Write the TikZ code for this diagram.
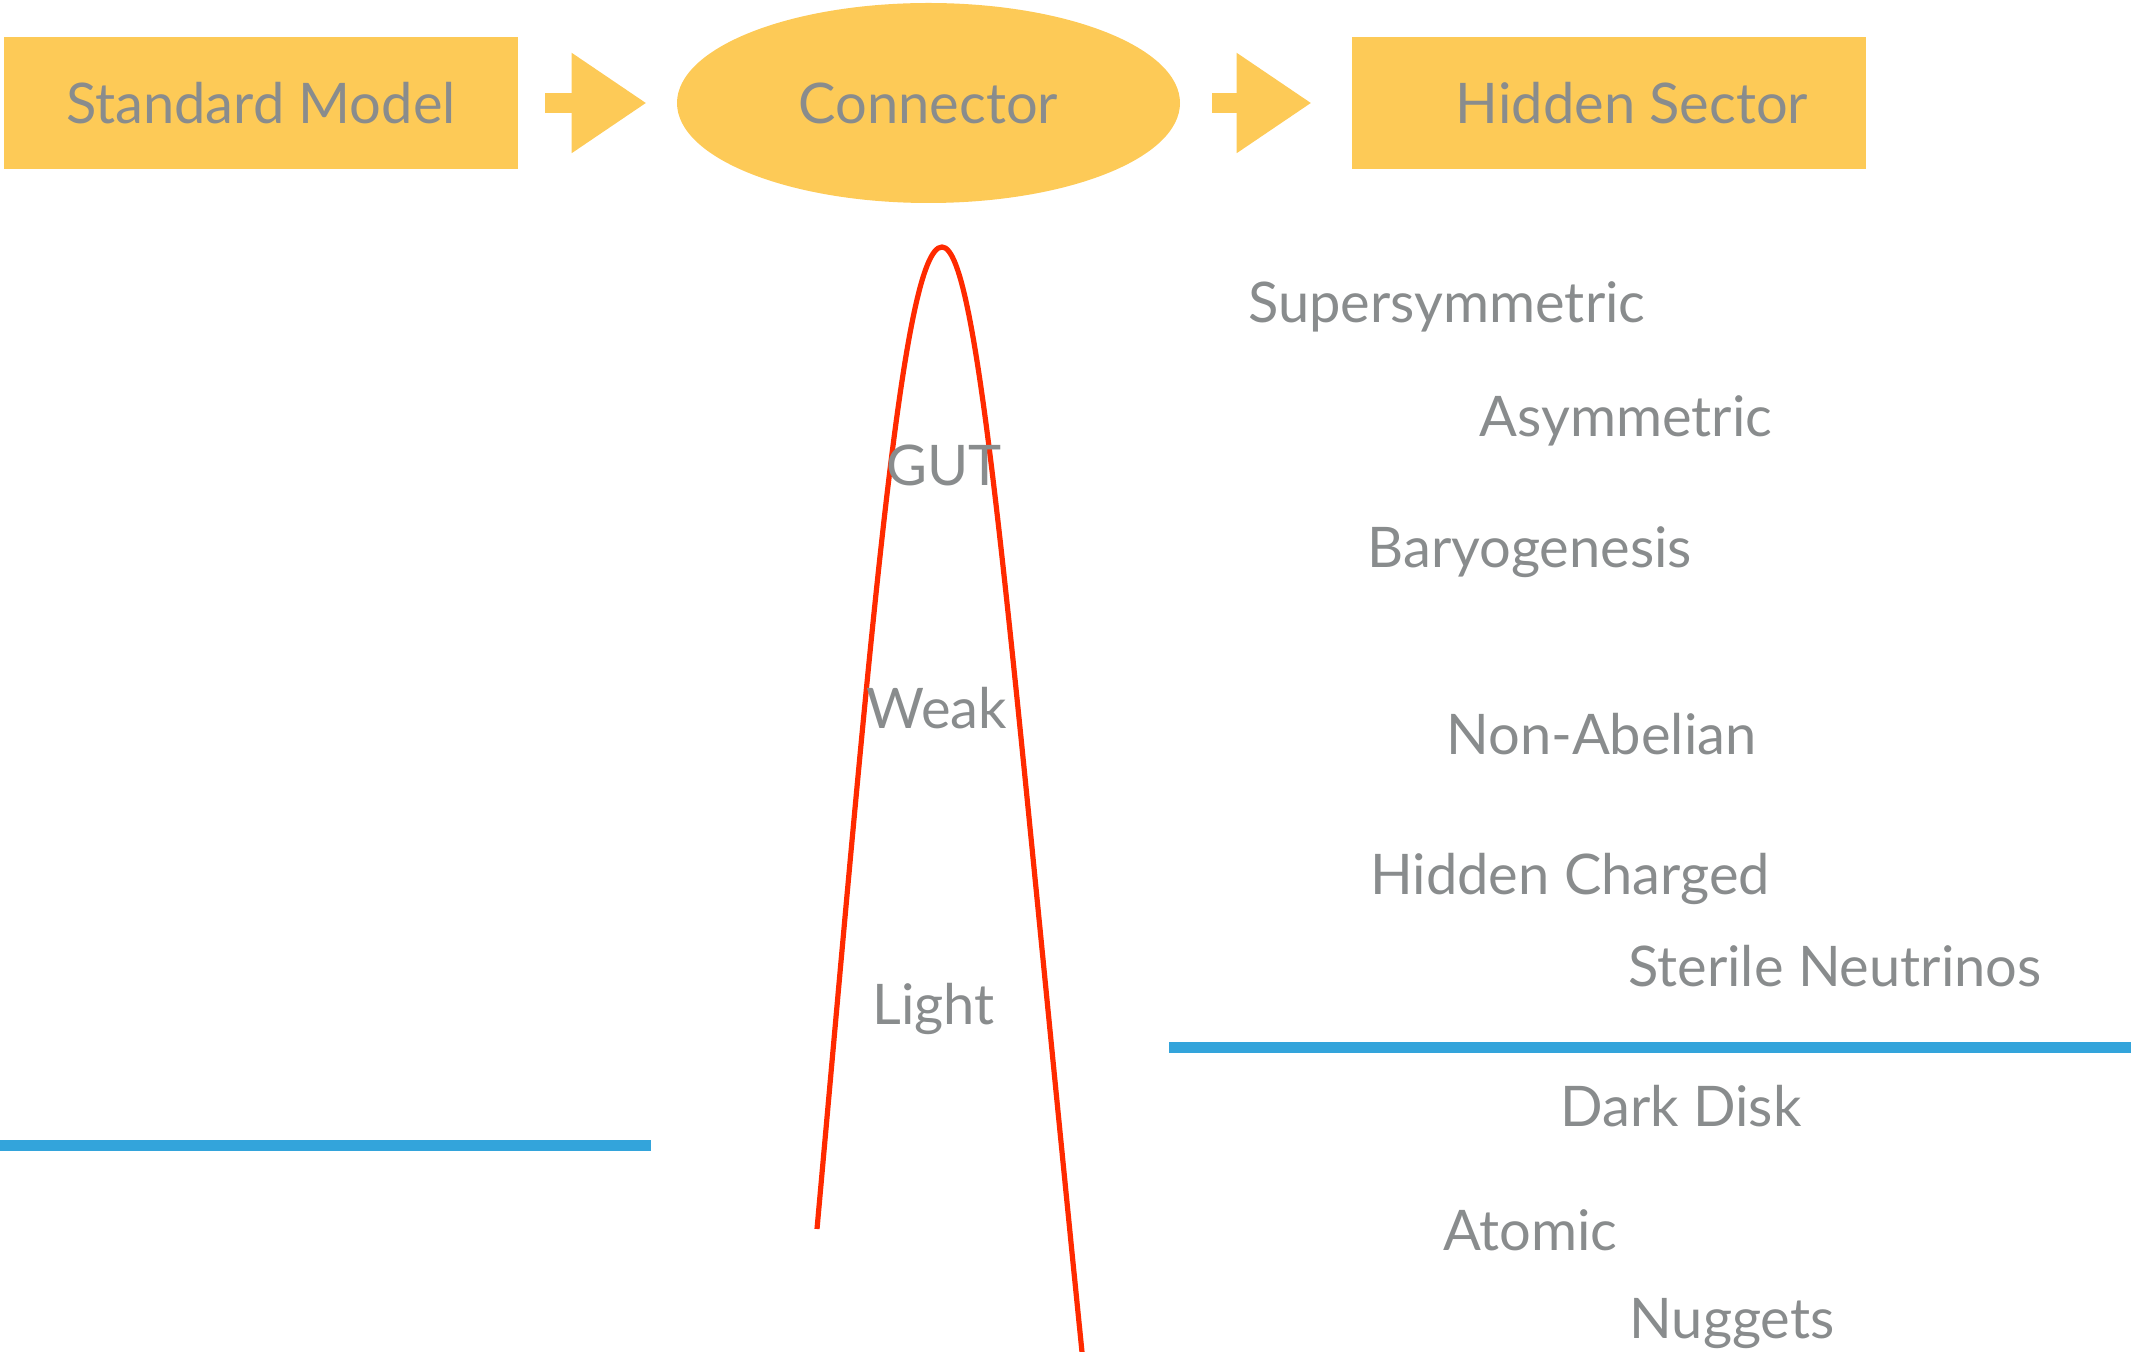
\documentclass[tikz,border=0pt]{standalone}
\usepackage{fontspec}
\setmainfont{Lato}
\usetikzlibrary{shapes.geometric,arrows.meta}
\definecolor{boxyellow}{RGB}{253,202,87}
\definecolor{textgray}{RGB}{137,140,141}
\definecolor{curvered}{RGB}{255,42,0}
\definecolor{lineblue}{RGB}{51,164,219}
\begin{document}
\begin{tikzpicture}[x=0.5pt, y=-0.5pt,
    every node/.style={text=textgray, font=\fontsize{28}{32}\selectfont},
    sectorbox/.style={fill=boxyellow, minimum width=257pt, minimum height=66pt, inner sep=0pt},
    label/.style={anchor=base west, inner sep=0pt},
    chalkarrow/.style={draw=boxyellow, line width=10pt, -{Triangle[length=37.5pt, width=47.5pt]}}]
    \useasboundingbox (0,0) rectangle (2131,1352);

    % top row
    \node[sectorbox] (sm) at (261,103) {Standard Model};
    \node[ellipse, fill=boxyellow, minimum width=251.5pt, minimum height=100pt, inner sep=0pt] (conn) at (928.5,103) {Connector};
    \node[sectorbox] (hs) at (1609,103) {\hspace{23pt}Hidden Sector};
    \draw[chalkarrow, shorten <=13.5pt, shorten >=15pt] (sm.east) -- (conn.west);
    \draw[chalkarrow, shorten <=16pt, shorten >=20pt] (conn.east) -- (hs.west);

    % mass scale
    \draw[curvered, line width=2.6pt, line cap=butt]
        (817,1229) .. controls (870,640) and (902,247) .. (942,247)
        .. controls (980,247) and (1010,640) .. (1082,1352);
    \draw[lineblue, line width=5.5pt] (0,1145.5) -- (651,1145.5);
    \draw[lineblue, line width=5.5pt] (1169,1047.5) -- (2131,1047.5);

    \node[label] (gut) at (886,486) {GUT};
    \node[label] (weak) at (866,728) {Weak};
    \node[label] (light) at (872,1024) {Light};

    \node[label] (susy) at (1248,323) {Supersymmetric};
    \node[label] (asym) at (1479,437) {Asymmetric};
    \node[label] (baryo) at (1367,568) {Baryogenesis};
    \node[label] (nonab) at (1446,754) {Non-Abelian};
    \node[label] (hcharged) at (1370,894) {Hidden Charged};
    \node[label] (sterile) at (1628,986) {Sterile Neutrinos};
    \node[label] (disk) at (1560,1126) {Dark Disk};
    \node[label] (atomic) at (1443,1250) {Atomic};
    \node[label] (nuggets) at (1629,1338) {Nuggets};
\end{tikzpicture}
\end{document}
